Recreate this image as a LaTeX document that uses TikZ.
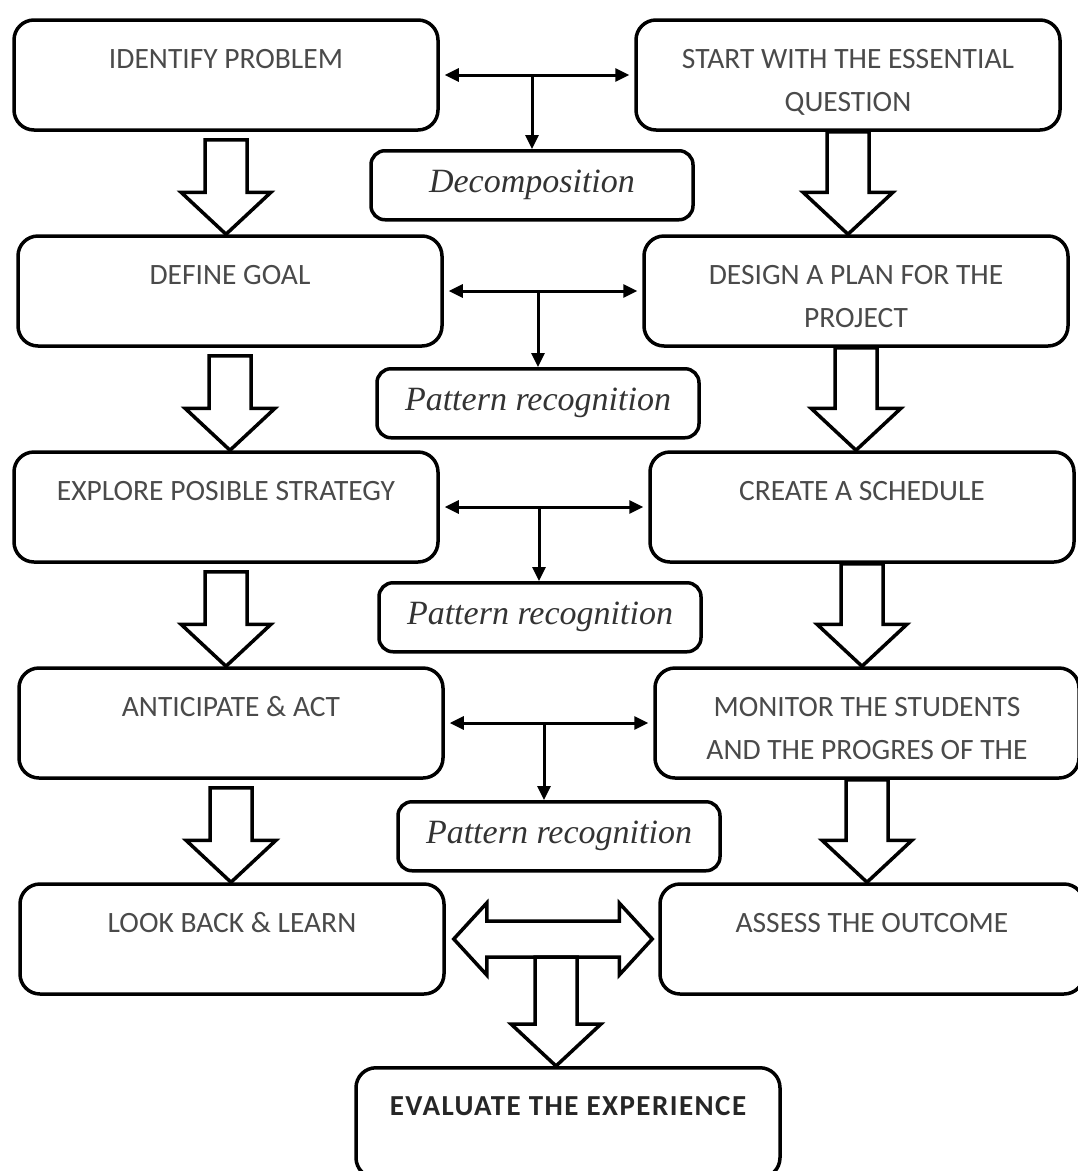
\documentclass[tikz,border=0pt]{standalone}
\usepackage{fontspec}
\setmainfont{Carlito}
\newfontfamily\labfont{Liberation Serif}
\usetikzlibrary{positioning,arrows.meta,calc}

\definecolor{boxtext}{HTML}{4A4A4A}
\newcommand{\boxlines}[2]{\rule{0pt}{42pt}#1\\#2\strut}

\begin{document}
\begin{tikzpicture}[x=1pt, y=1pt, >={Triangle[length=14pt,width=13pt]},
  node distance=102.5pt and 194.5pt,
  box/.style={draw, line width=3.5pt, rounded corners=20pt,
    minimum width=424pt, minimum height=110pt, inner sep=3pt,
    align=center, text=boxtext, font=\fontsize{29.5}{43}\selectfont},
  lab/.style={draw, line width=3.5pt, rounded corners=14pt,
    minimum width=322pt, minimum height=69pt, text=black!80,
    font=\labfont\itshape\fontsize{34}{40}\selectfont},
  link/.style={<->, line width=3pt, shorten <=5pt, shorten >=5pt},
  fat/.style={draw, fill=white, line width=3.5pt, to path={
    let \p1=(\tikztostart), \p2=(\tikztotarget) in
    (\x1-21pt,\y1) -- (\x1-21pt,\y2+42pt) -- (\x1-45pt,\y2+42pt) -- (\x1,\y2)
    -- (\x1+45pt,\y2+42pt) -- (\x1+21pt,\y2+42pt) -- (\x1+21pt,\y1) -- cycle}},
  wide/.style={draw, fill=white, line width=3.5pt, to path={
    let \p1=(\tikztostart), \p2=(\tikztotarget) in
    (\x1,\y1) -- (\x1+33pt,\y1+36pt) -- (\x1+33pt,\y1+18pt) -- (\x2-33pt,\y1+18pt)
    -- (\x2-33pt,\y1+36pt) -- (\x2,\y1) -- (\x2-33pt,\y1-36pt) -- (\x2-33pt,\y1-18pt)
    -- (\x1+33pt,\y1-18pt) -- (\x1+33pt,\y1-36pt) -- cycle}}]
  \useasboundingbox (0,0) rectangle (1078,-1171);

  \node[box] (idp) at (226,-75) {\boxlines{IDENTIFY PROBLEM}{}};
  \node[box, below=of idp, xshift=4pt]  (dg)  {\boxlines{DEFINE GOAL}{}};
  \node[box, below=of dg, xshift=-4pt]  (eps) {\boxlines{EXPLORE POSIBLE STRATEGY}{}};
  \node[box, below=of eps, xshift=5pt]  (aa)  {\boxlines{ANTICIPATE \& ACT}{}};
  \node[box, below=of aa, xshift=1pt]   (lbl) {\boxlines{LOOK BACK \& LEARN}{}};

  \node[box, right=of idp] (sweq) {\boxlines{START WITH THE ESSENTIAL}{QUESTION}};
  \node[box, right=of dg, xshift=4pt]   (dpp) {\boxlines{DESIGN A PLAN FOR THE}{PROJECT}};
  \node[box, right=of eps, xshift=14pt] (cas) {\boxlines{CREATE A SCHEDULE}{}};
  \node[box, right=of aa, xshift=14pt]  (msp) {\boxlines{MONITOR THE STUDENTS}{AND THE PROGRES OF THE}};
  \node[box, right=of lbl, xshift=18pt] (ato) {\boxlines{ASSESS THE OUTCOME}{}};

  \coordinate (m1) at ($(idp.east)!0.5!(sweq.west)$);
  \coordinate (m2) at ($(dg.east)!0.5!(dpp.west)$);
  \coordinate (m3) at ($(eps.east)!0.5!(cas.west)$);
  \coordinate (m4) at ($(aa.east)!0.5!(msp.west)$);
  \coordinate (m5) at ($(lbl.east)!0.5!(ato.west)$);

  \node[lab, below=74pt of m1, xshift=-5pt] (dec) {Decomposition};
  \node[lab, below=76pt of m2, xshift=-5pt] (pr1) {Pattern recognition};
  \node[lab, below=74pt of m3, xshift=-4pt] (pr2) {Pattern recognition};
  \node[lab, below=77pt of m4, xshift=10pt] (pr3) {Pattern recognition};

  \node[box, below=127pt of m5, xshift=16pt, text=black!85,
    font=\bfseries\fontsize{29}{43}\selectfont\addfontfeature{LetterSpace=5}] (ete)
    {\boxlines{EVALUATE THE EXPERIENCE}{}};

  \draw[link] (idp.east) -- (sweq.west);
  \draw[link] (dg.east) -- (dpp.west);
  \draw[link] (eps.east) -- (cas.west);
  \draw[link] (aa.east) -- (msp.west);
  \draw[->, line width=3pt] ([xshift=-5pt]m1) -- ([xshift=-5pt]m1 |- dec.north);
  \draw[->, line width=3pt] ([xshift=-5pt]m2) -- ([xshift=-5pt]m2 |- pr1.north);
  \draw[->, line width=3pt] ([xshift=-5pt]m3) -- ([xshift=-5pt]m3 |- pr2.north);
  \draw[->, line width=3pt] ([xshift=-5pt]m4) -- ([xshift=-5pt]m4 |- pr3.north);

  \draw[fat] ([yshift=-8pt]idp.south) to (dg.north);
  \draw[fat] ([yshift=-8pt]dg.south) to (eps.north);
  \draw[fat] ([yshift=-8pt]eps.south) to (aa.north);
  \draw[fat] ([yshift=-8pt]aa.south) to (lbl.north);
  \draw[fat] (sweq.south) to (dpp.north);
  \draw[fat] (dpp.south) to (cas.north);
  \draw[fat] (cas.south) to (msp.north);
  \draw[fat] (msp.south) to (ato.north);

  \draw[wide] ([xshift=8pt]lbl.east) to ([xshift=-6pt]ato.west);
  \draw[fat] ([xshift=4pt,yshift=-18pt]m5) to (ete.north);
\end{tikzpicture}
\end{document}
